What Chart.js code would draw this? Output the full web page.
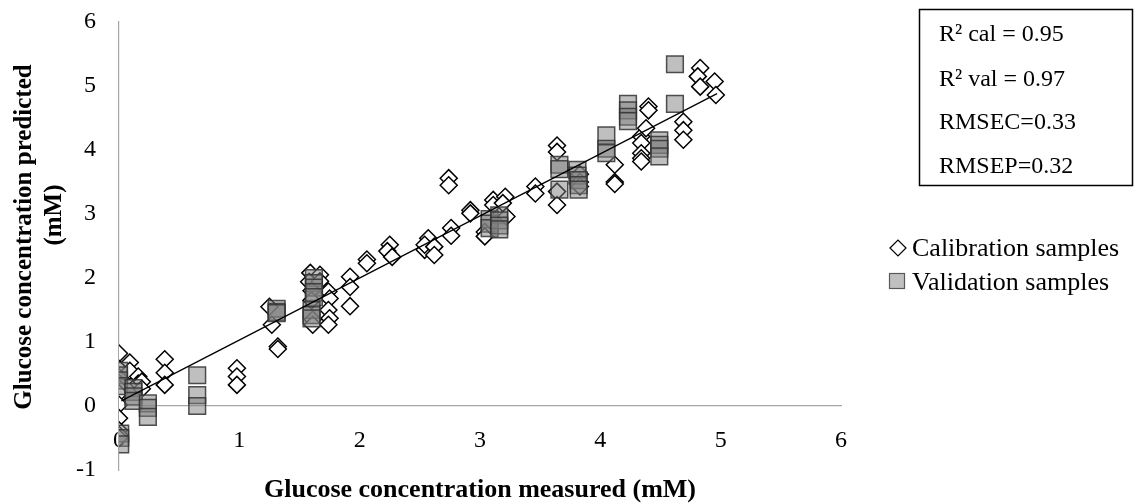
<!DOCTYPE html>
<html><head><meta charset="utf-8">
<script src="https://cdn.jsdelivr.net/npm/chart.js@4.4.0/dist/chart.umd.min.js"></script>
<style>html,body{margin:0;padding:0;background:#fff;}#wrap{width:1134px;height:504px;}</style>
</head><body><div id="wrap"><canvas id="c" width="1134" height="504"></canvas></div>
<script>
const seriesNames = ['Calibration samples', 'Validation samples'];
const xTitle = 'Glucose concentration measured (mM)';
const yTitle = ['Glucose concentration predicted', '(mM)'];
const xTickLabels = ['0', '1', '2', '3', '4', '5', '6'];
const yTickLabels = ['-1', '0', '1', '2', '3', '4', '5', '6'];
const statsLines = ['R\u00B2 cal = 0.95', 'R\u00B2 val = 0.97', 'RMSEC=0.33', 'RMSEP=0.32'];

const calX = [0.00,0.00,0.00,0.00,0.00,0.00,0.00,0.00,0.00,0.00,0.00,
  0.09,0.09,0.16,0.16,0.19,0.19,0.38,0.38,0.38,
  0.98,0.98,0.98,1.25,1.27,1.32,1.32,
  1.59,1.58,1.60,1.60,1.61,1.61,1.67,1.67,
  1.74,1.75,1.74,1.75,1.74,1.92,1.92,1.92,
  2.06,2.06,2.25,2.23,2.27,2.54,2.57,2.54,2.62,2.62,
  2.74,2.74,2.76,2.76,2.92,2.92,3.04,3.04,3.11,3.11,
  3.21,3.19,3.22,3.46,3.46,3.64,3.64,3.64,3.64,
  3.83,3.83,3.83,4.12,4.12,4.12,
  4.34,4.34,4.34,4.34,4.34,4.40,4.40,4.38,
  4.69,4.69,4.69,4.83,4.81,4.83,4.95,4.96];
const calY = [0.82,0.58,0.45,0.36,0.28,0.20,0.02,-0.19,-0.38,-0.45,-0.50,
  0.68,0.55,0.46,0.35,0.38,0.27,0.73,0.52,0.33,
  0.59,0.46,0.33,1.55,1.27,0.93,0.89,
  2.08,1.94,1.80,1.65,1.35,1.27,2.05,1.95,
  1.79,1.68,1.50,1.37,1.27,2.02,1.86,1.56,
  2.29,2.23,2.52,2.42,2.33,2.44,2.62,2.52,2.49,2.36,
  3.56,3.45,2.78,2.66,3.06,3.01,2.72,2.65,3.22,3.14,
  3.27,3.17,2.96,3.43,3.32,4.07,3.97,3.35,3.14,
  3.62,3.50,3.43,3.77,3.50,3.47,
  4.21,4.11,3.95,3.87,3.82,4.68,4.62,4.34,
  4.44,4.31,4.16,5.28,5.15,4.99,5.07,4.86];

const valX = [0.00,0.00,0.00,0.00,0.01,0.01,0.01,
  0.12,0.12,0.12,0.12,0.24,0.24,0.24,
  0.65,0.65,0.65,
  1.31,1.31,1.31,
  1.62,1.62,1.62,1.62,1.62,1.60,1.60,1.60,
  3.08,3.08,3.08,3.16,3.16,3.16,3.16,
  3.66,3.66,3.66,3.81,3.81,3.82,3.82,3.82,
  4.05,4.05,4.05,4.23,4.23,4.23,4.23,
  4.49,4.49,4.49,4.49,4.62,4.62];
const valY = [0.55,0.48,0.40,0.31,-0.43,-0.50,-0.60,
  0.28,0.22,0.15,0.08,0.04,-0.03,-0.17,
  0.48,0.17,0.00,
  1.52,1.47,1.45,
  2.00,1.92,1.85,1.78,1.70,1.50,1.42,1.37,
  2.92,2.85,2.78,2.98,2.90,2.82,2.76,
  3.77,3.70,3.38,3.69,3.60,3.53,3.45,3.38,
  4.23,4.02,3.95,4.72,4.62,4.52,4.45,
  4.15,4.08,4.02,3.90,5.34,4.72];

const fitX = [0.02, 4.97];
const fitY = [0.08, 4.88];

const FONT = "'Liberation Serif', 'Times New Roman', serif";
const pts = (xs, ys) => xs.map((x, i) => ({x: x, y: ys[i]}));

const extras = {
  id: 'extras',
  afterDraw(chart) {
    const ctx = chart.ctx;
    ctx.save();
    ctx.fillStyle = '#000';
    ctx.font = 'bold 25px ' + FONT;
    ctx.textAlign = 'center';
    ctx.textBaseline = 'middle';
    ctx.save(); ctx.translate(25, 237); ctx.rotate(-Math.PI / 2); ctx.fillText(yTitle[0], 0, 0); ctx.restore();
    ctx.save(); ctx.translate(55, 215); ctx.rotate(-Math.PI / 2); ctx.fillText(yTitle[1], 0, 0); ctx.restore();
    ctx.strokeStyle = '#000';
    ctx.lineWidth = 1.5;
    ctx.strokeRect(919.5, 9.5, 213, 176);
    ctx.font = '24px ' + FONT;
    ctx.textAlign = 'left';
    const sy = [35, 80, 123, 167];
    statsLines.forEach((t, i) => ctx.fillText(t, 939, sy[i]));
    ctx.font = '26px ' + FONT;
    ctx.beginPath();
    ctx.moveTo(890, 248); ctx.lineTo(898, 240); ctx.lineTo(906, 248); ctx.lineTo(898, 256); ctx.closePath();
    ctx.fillStyle = '#fff'; ctx.fill();
    ctx.strokeStyle = '#000'; ctx.lineWidth = 1.2; ctx.stroke();
    ctx.fillStyle = '#000';
    ctx.fillText(seriesNames[0], 912, 249);
    ctx.fillStyle = '#c0c0c0';
    ctx.fillRect(889.5, 273.5, 15, 15);
    ctx.strokeStyle = '#595959'; ctx.lineWidth = 1.2;
    ctx.strokeRect(889.5, 273.5, 15, 15);
    ctx.fillStyle = '#000';
    ctx.fillText(seriesNames[1], 912, 283);
    ctx.restore();
  }
};

new Chart(document.getElementById('c'), {
  type: 'scatter',
  data: {
    datasets: [
      {
        label: 'Fit',
        type: 'line',
        data: pts(fitX, fitY),
        borderColor: '#000',
        borderWidth: 1.3,
        pointRadius: 0,
        fill: false,
        order: 0
      },
      {
        label: seriesNames[1],
        data: pts(valX, valY),
        pointStyle: 'rect',
        pointRadius: 11.8,
        pointHoverRadius: 11.8,
        backgroundColor: 'rgba(128,128,128,0.5)',
        borderColor: 'rgba(50,50,50,0.85)',
        borderWidth: 1.5,
        order: 1
      },
      {
        label: seriesNames[0],
        data: pts(calX, calY),
        pointStyle: 'rectRot',
        pointRadius: 8.5,
        pointHoverRadius: 8.5,
        backgroundColor: '#fff',
        borderColor: '#000',
        borderWidth: 1.5,
        order: 2
      }
    ]
  },
  options: {
    responsive: false,
    animation: false,
    events: [],
    layout: { padding: { top: 22, left: 0, right: 293, bottom: 34 } },
    plugins: { legend: { display: false }, tooltip: { enabled: false } },
    scales: {
      x: {
        type: 'linear',
        position: { y: 0 },
        min: 0, max: 6,
        grid: { display: false, drawTicks: false },
        border: { display: true, color: '#a6a6a6', width: 1.2 },
        ticks: {
          stepSize: 1, padding: 20, color: '#000',
          font: { family: FONT, size: 24 },
          autoSkip: false, maxRotation: 0,
          callback: (v, i) => xTickLabels[i]
        },
        title: {
          display: true, text: xTitle, color: '#000',
          font: { family: FONT, size: 26, weight: 'bold', lineHeight: 1.2 },
          padding: { top: 0, bottom: -66 }
        },
        afterFit: (s) => { s.height = 34; s.paddingLeft = 0; s.paddingRight = 0; s.paddingTop = 0; s.paddingBottom = 0; }
      },
      y: {
        type: 'linear',
        position: 'left',
        min: -1, max: 6,
        grid: { display: false, drawTicks: false },
        border: { display: true, color: '#a6a6a6', width: 1.2 },
        ticks: {
          stepSize: 1, padding: 23, color: '#000',
          font: { family: FONT, size: 24 },
          callback: (v, i) => yTickLabels[i]
        },
        title: { display: false, text: yTitle },
        afterFit: (s) => { s.width = 119; s.paddingTop = 0; s.paddingBottom = 0; }
      }
    }
  },
  plugins: [extras]
});
</script>
</body></html>
